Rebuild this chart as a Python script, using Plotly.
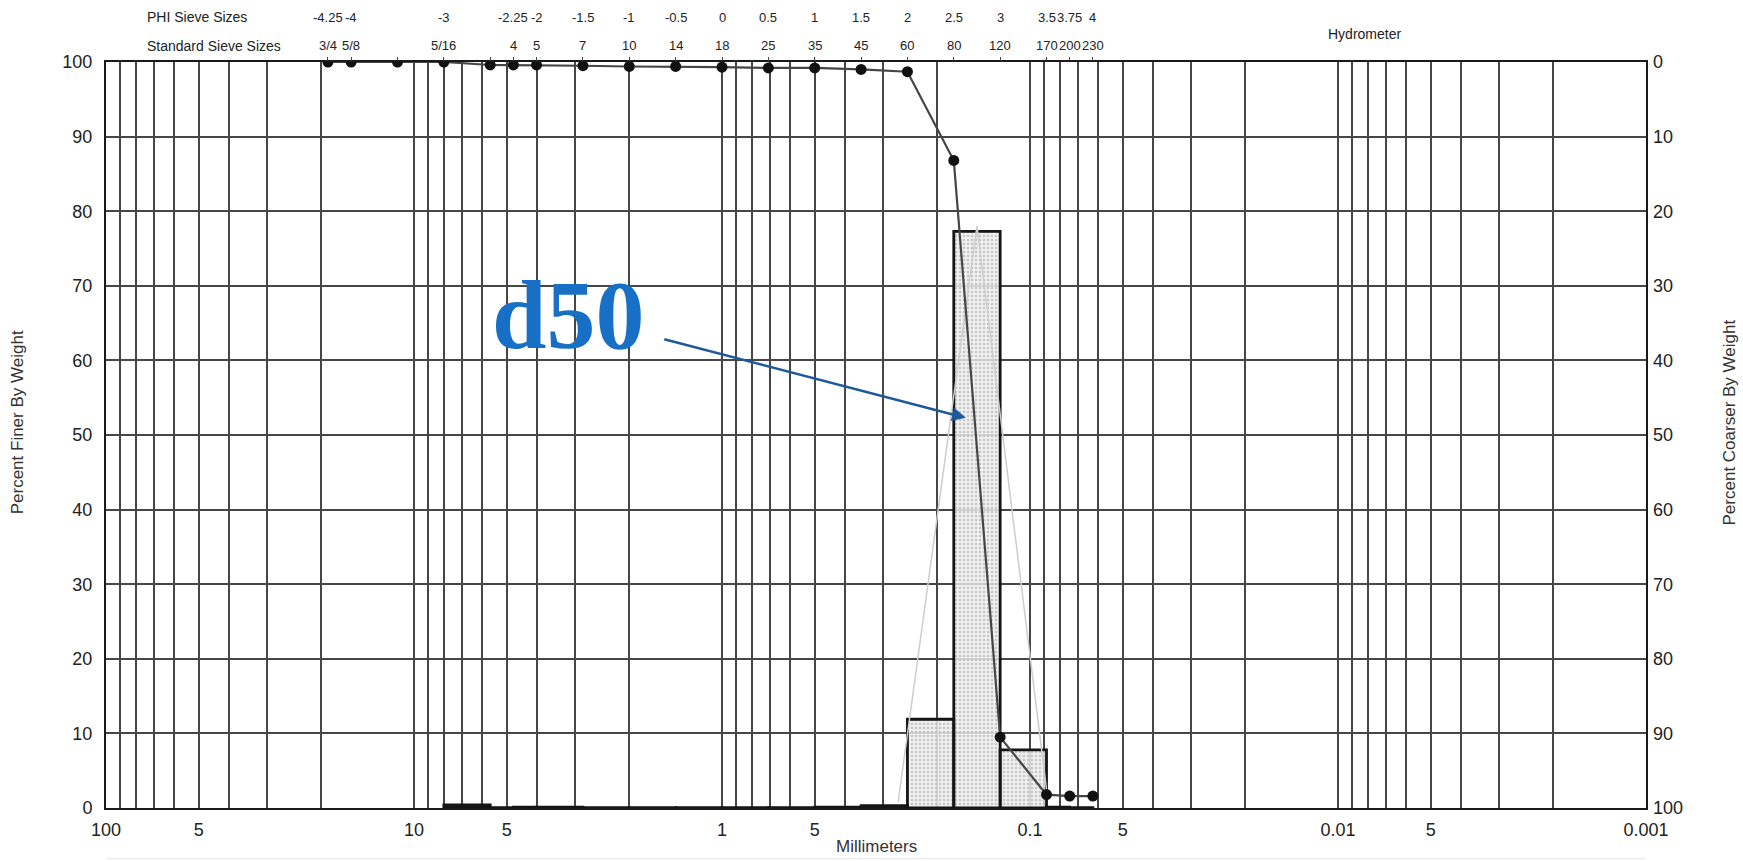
import math
import plotly.graph_objects as go

# ---------------- data ----------------
# sieve sizes in PHI units (mm = 2**-phi) and cumulative percent finer
sieve_phi = [-4.25, -4, -3.5, -3, -2.5, -2.25, -2, -1.5, -1, -0.5, 0, 0.5, 1, 1.5, 2, 2.5, 3, 3.5, 3.75, 4]
percent_finer = [100, 100, 100, 100, 99.6, 99.6, 99.6, 99.5, 99.4, 99.4, 99.3, 99.2, 99.2, 99.0, 98.7,
                 86.8, 9.5, 1.8, 1.6, 1.6]

# histogram (percent retained between consecutive sieves)
bin_lo_phi = [-3, -2.5, -2.25, -2, -1.5, -1, -0.5, 0, 0.5, 1, 1.5, 2, 2.5, 3, 3.5, 3.75]
bin_hi_phi = [-2.5, -2.25, -2, -1.5, -1, -0.5, 0, 0.5, 1, 1.5, 2, 2.5, 3, 3.5, 3.75, 4]
percent_retained = [0.4, 0.05, 0.1, 0.1, 0.05, 0.05, 0.05, 0.05, 0.05, 0.1, 0.3, 11.9, 77.3, 7.8, 0.1, 0.05]

# light frequency curve
freq_phi = [1.9, 2.75, 3.5]
freq_pct = [0.8, 78.0, 2.5]

# top label rows
label_phi = [-4.25, -4, -3, -2.25, -2, -1.5, -1, -0.5, 0, 0.5, 1, 1.5, 2, 2.5, 3, 3.5, 3.75, 4]
phi_labels = ["-4.25", "-4", "-3", "-2.25", "-2", "-1.5", "-1", "-0.5", "0", "0.5", "1", "1.5",
              "2", "2.5", "3", "3.5", "3.75", "4"]
std_sieve_labels = ["3/4", "5/8", "5/16", "4", "5", "7", "10", "14", "18", "25", "35", "45",
                    "60", "80", "120", "170", "200", "230"]

# x axis labels
x_label_vals = [100, 50, 10, 5, 1, 0.5, 0.1, 0.05, 0.01, 0.005, 0.001]
x_label_text = ["100", "5", "10", "5", "1", "5", "0.1", "5", "0.01", "5", "0.001"]

# d50 pointer
d50_mm = 0.1616
d50_pct = 52.3

# ---------------- helpers ----------------
def phi_to_mm(p):
    return 2.0 ** (-p)

sieve_mm = [phi_to_mm(p) for p in sieve_phi]

# grid values: 1..9 multiples of every decade
grid_vals = []
for dec in [10, 1, 0.1, 0.01, 0.001]:
    for m in range(1, 10):
        v = round(m * dec, 6)
        if v <= 100:
            grid_vals.append(v)
grid_vals.append(100)
grid_vals = sorted(set(grid_vals))
grid_text = []
for v in grid_vals:
    t = ""
    for lv, lt in zip(x_label_vals, x_label_text):
        if abs(v - lv) < 1e-9:
            t = lt
    grid_text.append(t)

FONT = "Liberation Sans, Arial, sans-serif"
GRID = "#464646"

fig = go.Figure()

# histogram bars as polygons on the log axis
bx, by = [], []
for lo, hi, h in zip(bin_lo_phi, bin_hi_phi, percent_retained):
    a, b = phi_to_mm(lo), phi_to_mm(hi)
    bx += [a, a, b, b, a, None]
    by += [0, h, h, 0, 0, None]
fig.add_trace(go.Scatter(
    x=bx, y=by, mode="lines", fill="toself",
    fillcolor="rgba(228,228,228,0.85)",
    fillpattern=dict(shape=".", size=4, solidity=0.3, fgcolor="#c4c4c4",
                     bgcolor="rgba(238,238,238,0.85)", fillmode="replace"),
    line=dict(color="#151515", width=2.8),
    hoverinfo="skip", showlegend=False))

# light frequency curve
fig.add_trace(go.Scatter(
    x=[phi_to_mm(p) for p in freq_phi], y=freq_pct, mode="lines",
    line=dict(color="#cdcdcd", width=1.5), hoverinfo="skip", showlegend=False))

# cumulative curve
fig.add_trace(go.Scatter(
    x=sieve_mm, y=percent_finer, mode="lines+markers",
    line=dict(color="#454545", width=2.2),
    marker=dict(color="#111111", size=11),
    showlegend=False))

# percent coarser (right axis) – invisible, keeps right axis alive
fig.add_trace(go.Scatter(
    x=sieve_mm, y=[100 - v for v in percent_finer], yaxis="y2", mode="markers",
    marker=dict(opacity=0), hoverinfo="skip", showlegend=False))

# top sieve tick marks
fig.add_trace(go.Scatter(
    x=sieve_mm, y=percent_finer, xaxis="x2", mode="markers",
    marker=dict(opacity=0), hoverinfo="skip", showlegend=False))

annotations = []
for p, t in zip(label_phi, phi_labels):
    annotations.append(dict(x=-p * math.log10(2), y=1.060, xref="x", yref="paper", text=t,
                            showarrow=False, font=dict(family=FONT, size=13, color="#222"),
                            xanchor="center", yanchor="middle"))
for p, t in zip(label_phi, std_sieve_labels):
    annotations.append(dict(x=-p * math.log10(2), y=1.022, xref="x", yref="paper", text=t,
                            showarrow=False, font=dict(family=FONT, size=13, color="#222"),
                            xanchor="center", yanchor="middle"))
annotations += [
    dict(x=0.0253, y=1.060, xref="paper", yref="paper", text="PHI Sieve Sizes", showarrow=False,
         font=dict(family=FONT, size=14, color="#222"), xanchor="left", yanchor="middle"),
    dict(x=0.0253, y=1.022, xref="paper", yref="paper", text="Standard Sieve Sizes", showarrow=False,
         font=dict(family=FONT, size=14, color="#222"), xanchor="left", yanchor="middle"),
    dict(x=0.8175, y=1.037, xref="paper", yref="paper", text="Hydrometer", showarrow=False,
         font=dict(family=FONT, size=14, color="#222"), xanchor="center", yanchor="middle"),
    dict(x=-0.0578, y=0.517, xref="paper", yref="paper", text="Percent Finer By Weight",
         showarrow=False, textangle=-90, font=dict(family=FONT, size=17, color="#333"),
         xanchor="center", yanchor="middle"),
    dict(x=1.054, y=0.517, xref="paper", yref="paper", text="Percent Coarser By Weight",
         showarrow=False, textangle=-90, font=dict(family=FONT, size=17, color="#333"),
         xanchor="center", yanchor="middle"),
    dict(x=0.5, y=-0.052, xref="paper", yref="paper", text="Millimeters", showarrow=False,
         font=dict(family=FONT, size=17, color="#333"), xanchor="center", yanchor="middle"),
    # d50 label and arrow
    dict(x=0.30, y=0.661, xref="paper", yref="paper", text="<b>d50</b>", showarrow=False,
         font=dict(family="Liberation Serif, DejaVu Serif, serif", size=98, color="#1870c6"),
         xanchor="center", yanchor="middle"),
    dict(x=math.log10(d50_mm), y=d50_pct, xref="x", yref="y", text="", showarrow=True,
         ax=-303, ay=-79, arrowhead=2, arrowsize=1.1, arrowwidth=2.5, arrowcolor="#1d5a9c",
         standoff=0),
]

fig.update_layout(
    width=1743, height=861,
    margin=dict(l=106, r=97, t=62, b=53),
    paper_bgcolor="white", plot_bgcolor="white",
    showlegend=False,
    font=dict(family=FONT, color="#222"),
    xaxis=dict(type="log", range=[2, -3], tickmode="array", tickvals=grid_vals, ticktext=grid_text,
               showgrid=True, gridcolor=GRID, gridwidth=1.8, zeroline=False,
               showline=True, linecolor="#1a1a1a", linewidth=2, mirror=True, ticks="",
               tickfont=dict(size=18, color="#222"), ticklabelstandoff=4),
    xaxis2=dict(type="log", range=[2, -3], overlaying="x", side="top", anchor="y",
                tickmode="array", tickvals=sieve_mm, ticks="outside", ticklen=4,
                tickcolor="#444", tickwidth=1.2, showticklabels=False, showgrid=False,
                showline=False, zeroline=False),
    yaxis=dict(range=[0, 100], tickmode="linear", tick0=0, dtick=10, showgrid=True,
               gridcolor=GRID, gridwidth=1.8, zeroline=False, showline=True, linecolor="#1a1a1a",
               linewidth=2, mirror=True, ticks="", tickfont=dict(size=18, color="#222"),
               ticklabelstandoff=8),
    yaxis2=dict(range=[100, 0], overlaying="y", side="right", tickmode="linear", tick0=0, dtick=10,
                showgrid=False, zeroline=False, showline=False, ticks="",
                tickfont=dict(size=18, color="#222"), ticklabelstandoff=6),
    annotations=annotations,
    shapes=[dict(type="line", xref="paper", yref="paper", x0=0, x1=1, y0=-0.068, y1=-0.068,
                 line=dict(color="#e4e4e4", width=1))],
)

fig.write_html("out.html")
